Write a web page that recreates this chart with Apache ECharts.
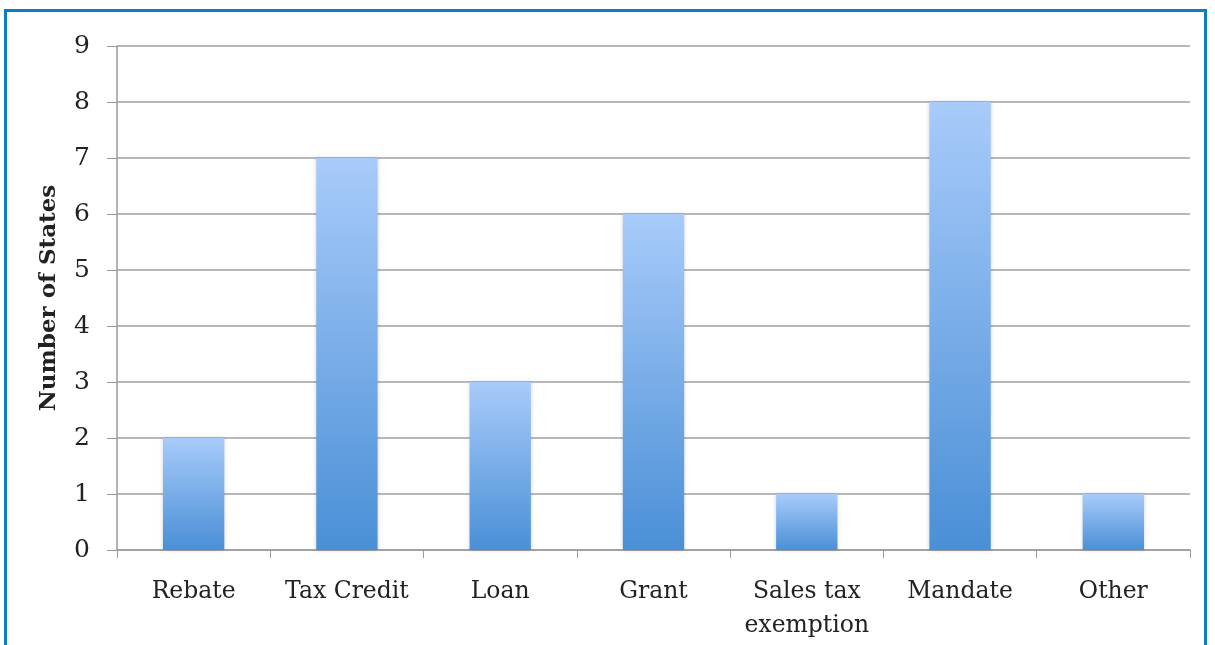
<!DOCTYPE html>
<html>
<head>
<meta charset="utf-8">
<script src="https://cdn.jsdelivr.net/npm/echarts@6/dist/echarts.min.js"></script>
<style>
html,body{margin:0;padding:0;background:#fff;}
#frame{position:absolute;left:4px;top:9px;width:1203px;height:660px;border:3px solid #0a7fc0;box-sizing:border-box;}
#chart{position:absolute;left:0;top:0;width:1215px;height:645px;}
</style>
</head>
<body>
<div id="frame"></div>
<div id="chart"></div>
<script>
const categories = ['Rebate', 'Tax Credit', 'Loan', 'Grant', 'Sales tax\nexemption', 'Mandate', 'Other'];
const values = [2, 7, 3, 6, 1, 8, 1];
const yTicks = { min: 0, max: 9, interval: 1 };

const font = 'DejaVu Serif';
const chart = echarts.init(document.getElementById('chart'), null, { renderer: 'canvas' });
chart.setOption({
  animation: false,
  grid: { left: 117, right: 25, top: 46, bottom: 95, containLabel: false },
  xAxis: {
    type: 'category',
    data: categories,
    axisLine: { show: true, lineStyle: { color: '#9a9a9a', width: 1.5 } },
    axisTick: { show: true, length: 8, alignWithLabel: false, lineStyle: { color: '#9a9a9a' } },
    axisLabel: { fontFamily: font, fontSize: 23.5, color: '#222', margin: 25, lineHeight: 34, interval: 0 }
  },
  yAxis: {
    type: 'value',
    min: yTicks.min, max: yTicks.max, interval: yTicks.interval,
    name: 'Number of States',
    nameLocation: 'middle',
    nameGap: 56,
    nameTextStyle: { fontFamily: font, fontSize: 23, fontWeight: 'bold', color: '#222' },
    axisLine: { show: true, lineStyle: { color: '#9a9a9a', width: 1.5 } },
    axisTick: { show: true, length: 10, lineStyle: { color: '#9a9a9a' } },
    axisLabel: { fontFamily: font, fontSize: 25, color: '#222', margin: 27 },
    splitLine: { show: true, lineStyle: { color: '#a0a0a0', width: 1.5 } }
  },
  series: [{
    type: 'bar',
    data: values,
    barWidth: '40%',
    itemStyle: {
      color: new echarts.graphic.LinearGradient(0, 0, 0, 1, [
        { offset: 0, color: '#a8cbfa' },
        { offset: 1, color: '#4a8fd6' }
      ]),
      shadowColor: 'rgba(0,0,0,0.18)',
      shadowBlur: 4
    }
  }]
});
</script>
</body>
</html>
